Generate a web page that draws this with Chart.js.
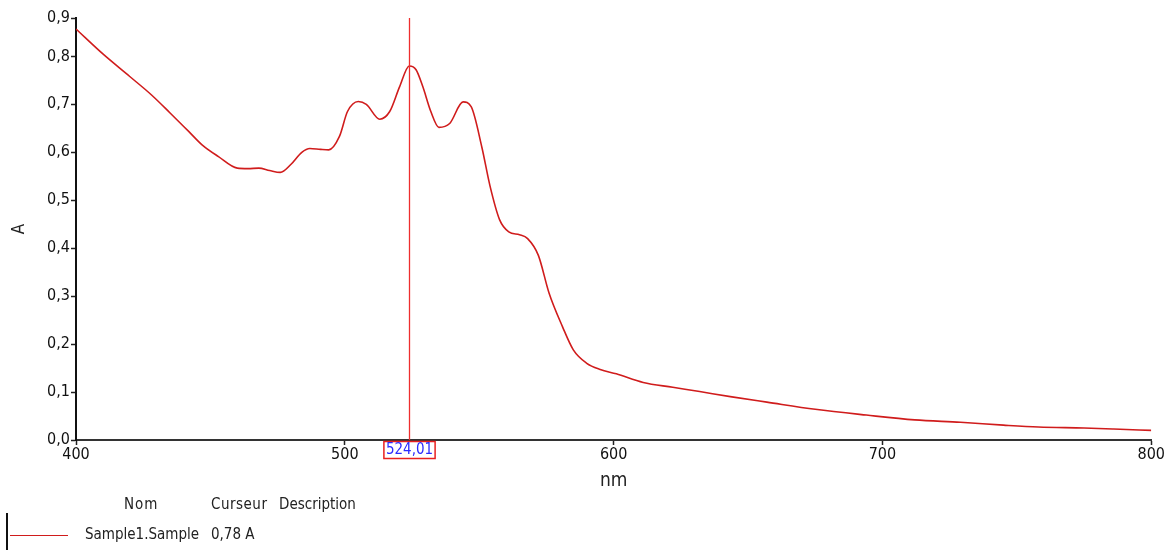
<!DOCTYPE html>
<html>
<head>
<meta charset="utf-8">
<script src="https://cdn.jsdelivr.net/npm/chart.js@4.4.0/dist/chart.umd.min.js"></script>
<style>
    body { margin: 0; background: #fff; }
    #wrap { position: relative; width: 1165px; height: 550px; }
    .lg { position: absolute; font-family: 'Liberation Sans Narrow', 'DejaVu Sans Condensed', sans-serif; font-size: 15px; color: #222; white-space: nowrap; }
</style>
</head>
<body>
<div id="wrap">
    <canvas id="spectrumChart" width="1165" height="550"></canvas>
    <div class="lg" style="left:124px; top:495px; letter-spacing:1px;">Nom</div>
    <div class="lg" style="left:211px; top:495px; letter-spacing:0.5px;">Curseur</div>
    <div class="lg" style="left:279px; top:495px;">Description</div>
    <div style="position:absolute; left:6px; top:513px; width:2px; height:37px; background:#111;"></div>
    <div style="position:absolute; left:10px; top:535px; width:58px; height:1px; background:#d01c1c;"></div>
    <div class="lg" style="left:85px; top:525px;">Sample1.Sample</div>
    <div class="lg" style="left:211px; top:525px;">0,78 A</div>
</div>
<script>
// spectre d'absorbance
const wavelengths = [400, 410, 420, 428, 435, 442, 447, 453, 460, 464, 468, 472, 476, 480, 484, 487, 491, 494,
    498, 501, 505, 508, 513, 516.7, 520.4, 524, 526.5, 529, 532, 535, 539, 544, 547, 551, 554, 557.6, 561, 565, 568,
    572, 576, 581, 585, 590, 595, 601, 611, 622, 632, 644, 657, 675, 694, 712, 729, 745, 758, 775, 786, 800];
const absorbance = [0.857, 0.805, 0.758, 0.72, 0.682, 0.643, 0.615, 0.591, 0.567, 0.566, 0.567, 0.562, 0.558, 0.575, 0.6, 0.608, 0.606, 0.605,
    0.633, 0.685, 0.706, 0.7, 0.669, 0.685, 0.737, 0.78, 0.772, 0.737, 0.685, 0.652, 0.66, 0.705, 0.695, 0.61, 0.53, 0.459, 0.434, 0.428, 0.42,
    0.385, 0.306, 0.236, 0.188, 0.16, 0.147, 0.138, 0.12, 0.11, 0.101, 0.09, 0.079, 0.064, 0.052, 0.042, 0.037, 0.031, 0.027, 0.025, 0.023, 0.02];
const yTickValues = [0, 0.1, 0.2, 0.3, 0.4, 0.5, 0.6, 0.7, 0.8, 0.88];
const yTickLabels = ['0,0', '0,1', '0,2', '0,3', '0,4', '0,5', '0,6', '0,7', '0,8', '0,9'];
const cursorNm = 524.01;
const cursorLabel = '524,01';

const tickFont = { family: "'Liberation Sans Narrow', 'DejaVu Sans Condensed', sans-serif", size: 16 };

const cursorPlugin = {
    id: 'cursor',
    afterDatasetsDraw(chart) {
        const ctx = chart.ctx;
        const x = Math.round(chart.scales.x.getPixelForValue(cursorNm)) + 0.5;
        const area = chart.chartArea;
        ctx.save();
        ctx.strokeStyle = '#ee2e2e';
        ctx.lineWidth = 1.3;
        ctx.beginPath();
        ctx.moveTo(x, area.top);
        ctx.lineTo(x, area.bottom);
        ctx.stroke();
        ctx.font = "15px 'Liberation Sans Narrow', 'DejaVu Sans Condensed', sans-serif";
        const w = ctx.measureText(cursorLabel).width + 4;
        ctx.fillStyle = '#fff';
        ctx.fillRect(x - w / 2, area.bottom + 1, w, 17);
        ctx.strokeStyle = '#e82020';
        ctx.lineWidth = 1.5;
        ctx.strokeRect(x - w / 2, area.bottom + 1.5, w, 17);
        ctx.fillStyle = '#2b2bff';
        ctx.textAlign = 'center';
        ctx.textBaseline = 'middle';
        ctx.fillText(cursorLabel, x, area.bottom + 10);
        ctx.restore();
    }
};

const ctxSpectrum = document.getElementById('spectrumChart').getContext('2d');
const spectrumChart = new Chart(ctxSpectrum, {
    type: 'line',
    data: {
        datasets: [{
            label: 'Sample1.Sample',
            data: wavelengths.map((nm, i) => ({ x: nm, y: absorbance[i] })),
            borderColor: '#d01c1c',
            borderWidth: 1.6,
            pointRadius: 0,
            fill: false,
            cubicInterpolationMode: 'monotone'
        }]
    },
    options: {
        responsive: false,
        animation: false,
        layout: { padding: { left: 0, right: 13, top: 18, bottom: 0 } },
        plugins: {
            legend: { display: false },
            tooltip: { enabled: false }
        },
        scales: {
            x: {
                type: 'linear',
                min: 400,
                max: 800,
                afterFit: function (scale) { scale.height = 110; },
                ticks: { stepSize: 100, font: tickFont, color: '#111', padding: 0, maxRotation: 0 },
                grid: { drawOnChartArea: false, drawTicks: true, tickLength: 5, color: '#222', tickWidth: 1.5 },
                border: { display: true, color: '#333', width: 2 },
                title: { display: true, text: 'nm', font: { family: tickFont.family, size: 19 }, color: '#222', padding: { top: 0, bottom: 58 } }
            },
            y: {
                min: 0,
                max: 0.88,
                afterFit: function (scale) { scale.width = 76; },
                afterBuildTicks: function (scale) { scale.ticks = yTickValues.map(v => ({ value: v })); },
                ticks: {
                    font: tickFont, color: '#111', padding: 1,
                    callback: function (value, index) { return yTickLabels[index]; }
                },
                grid: { drawOnChartArea: false, drawTicks: true, tickLength: 5, color: '#222', tickWidth: 1.5 },
                border: { display: true, color: '#111', width: 2 },
                title: { display: true, text: 'A', font: { family: tickFont.family, size: 17 }, color: '#222', padding: { top: 9, bottom: 0 } }
            }
        }
    },
    plugins: [cursorPlugin]
});
</script>
</body>
</html>
